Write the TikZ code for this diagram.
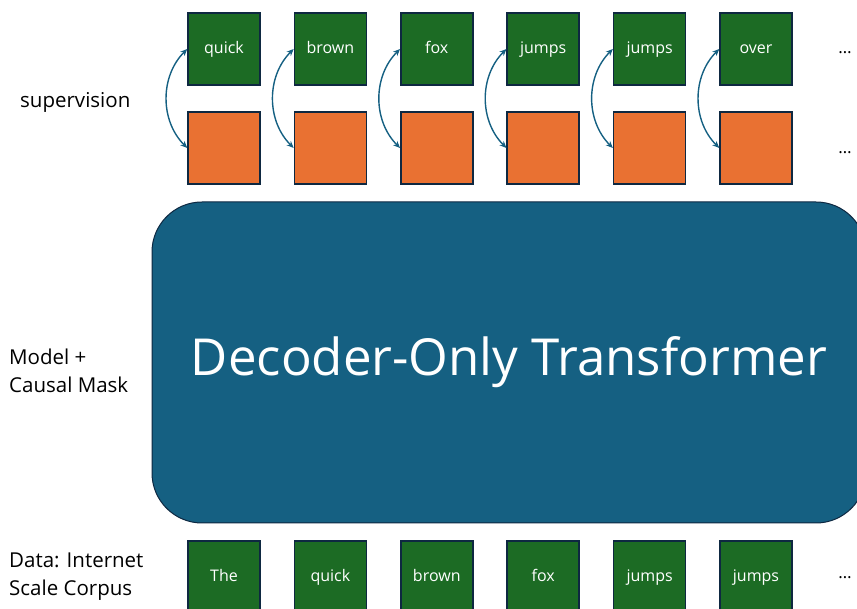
\documentclass[tikz,border=0pt]{standalone}
\usepackage{fontspec}
\setmainfont{Open Sans}
\usetikzlibrary{arrows.meta}
\definecolor{tokengreen}{HTML}{1C6B24}
\definecolor{predorange}{HTML}{E97132}
\definecolor{modelblue}{HTML}{156082}
\definecolor{edgenavy}{HTML}{0E2841}
\tikzset{
  token/.style = {
    draw=edgenavy, line width=1.5pt, fill=tokengreen, text=white,
    minimum size=72pt, inner sep=0pt, text height=12.8pt, text depth=4pt,
    font=\fontsize{16}{19}\selectfont
  },
  prediction/.style = {token, fill=predorange},
  sidelabel/.style = {anchor=west, align=left, inner sep=0pt, font=\fontsize{20.5}{28}\selectfont},
  dotslabel/.style = {inner sep=0pt, font=\fontsize{17}{19}\selectfont},
  superarrow/.style = {<->, >={Stealth[length=7pt,width=6pt]}, draw=modelblue, line width=1.4pt}
}
\begin{document}
\begin{tikzpicture}[x=1pt,y=1pt]
  \useasboundingbox (0,0) rectangle (857,609);
  \clip (0,0) rectangle (857,609);
  \pgfmathsetmacro{\colstep}{106.4}
  %
  \node[draw=edgenavy, line width=1pt, fill=modelblue, rounded corners=50pt,
        minimum width=714pt, minimum height=321pt, text=white,
        font=\fontsize{51}{56}\selectfont] (model) at (509,246.5) {Decoder-Only Transformer};
  \foreach \inword/\outword [count=\i from 0] in {The/quick, quick/brown, brown/fox, fox/jumps, jumps/jumps, jumps/over} {
    \pgfmathsetmacro{\cx}{224+\colstep*\i}
    \node[token] (in\i) at (\cx,32) {\inword};
    \node[prediction] (pred\i) at (\cx,461) {};
    \node[token] (sup\i) at (\cx,560) {\outword};
    \draw[superarrow] (sup\i.west) to[bend right=45] (pred\i.west);
  }
  \node[dotslabel] (supdots) at (845,556) {\ldots};
  \node[dotslabel] (preddots) at (845,456) {\ldots};
  \node[dotslabel] (indots) at (845,31) {\ldots};
  %
  \node[sidelabel] (suplabel) at (20,507) {supervision};
  \node[sidelabel] (modellabel) at (9,238) {Model +\\Causal Mask};
  \node[sidelabel] (datalabel) at (9,32.5) {Data: Internet\\Scale Corpus};
\end{tikzpicture}
\end{document}
